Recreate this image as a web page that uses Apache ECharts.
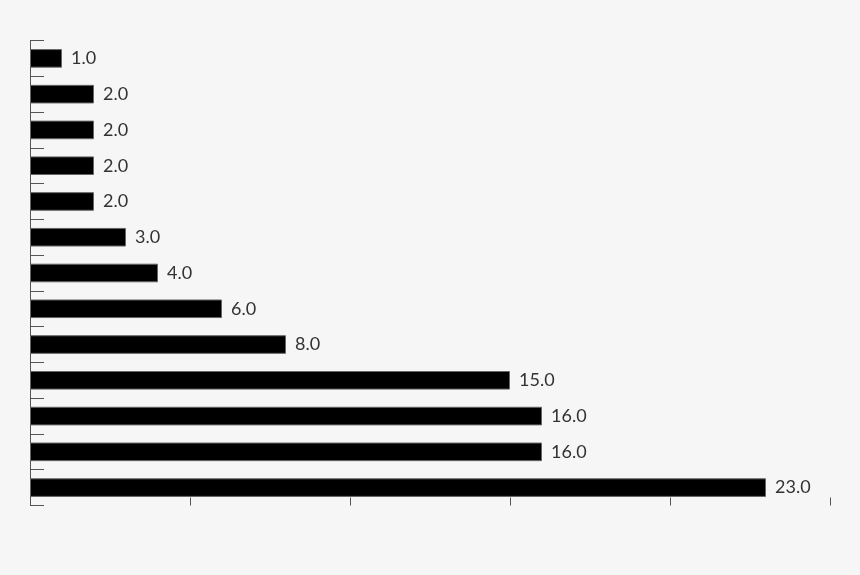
<!DOCTYPE html>
<html>
<head>
<meta charset="utf-8">
<script src="https://cdn.jsdelivr.net/npm/echarts@6/dist/echarts.min.js"></script>
<style>
html,body{margin:0;padding:0;background:#f6f6f6;}
#c{width:860px;height:575px;}
</style>
</head>
<body>
<div id="c"></div>
<script>
const categories = ['A','B','C','D','E','F','G','H','I','J','K','L','M'];
const values = [1, 2, 2, 2, 2, 3, 4, 6, 8, 15, 16, 16, 23];
const xTicks = [0, 5, 10, 15, 20, 25];

const chart = echarts.init(document.getElementById('c'));
chart.setOption({
  backgroundColor: '#f6f6f6',
  animation: false,
  grid: {left: 30, right: 30, top: 40.5, bottom: 69.5, containLabel: false},
  xAxis: {
    type: 'value',
    min: xTicks[0],
    max: xTicks[xTicks.length - 1],
    interval: 5,
    axisLine: {show: false},
    axisTick: {show: true, inside: true, length: 8, lineStyle: {color: '#555', width: 1}},
    axisLabel: {show: false},
    splitLine: {show: false}
  },
  yAxis: {
    type: 'category',
    data: categories,
    inverse: true,
    axisLine: {show: true, lineStyle: {color: '#555', width: 1}},
    axisTick: {show: true, inside: true, length: 14, lineStyle: {color: '#555', width: 1}},
    axisLabel: {show: false},
    splitLine: {show: false}
  },
  series: [{
    type: 'bar',
    data: values,
    barWidth: '52%',
    itemStyle: {color: '#000', borderColor: '#666', borderWidth: 1},
    label: {
      show: true,
      position: 'right',
      distance: 9,
      color: '#333',
      fontFamily: 'Lato',
      fontSize: 18,
      formatter: p => p.value.toFixed(1)
    }
  }]
});
</script>
</body>
</html>
